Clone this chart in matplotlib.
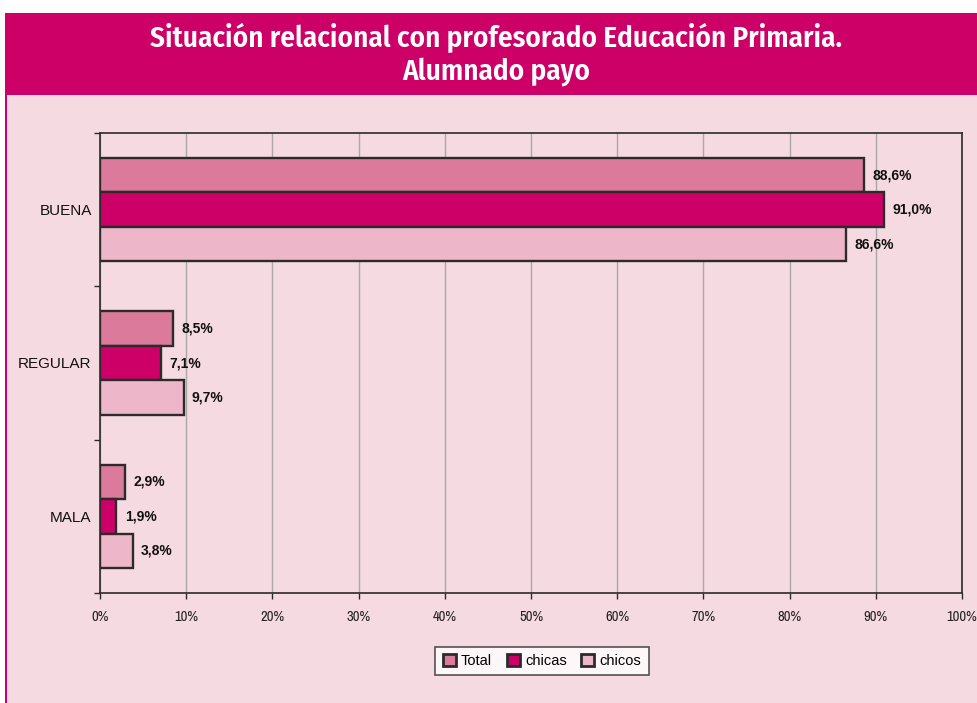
import numpy as np
import matplotlib
matplotlib.use("Agg")
import matplotlib.pyplot as plt
from matplotlib.patches import Rectangle

# data
categories = ["BUENA", "REGULAR", "MALA"]
series_names = ["Total", "chicas", "chicos"]
total = [88.6, 8.5, 2.9]
chicas = [91.0, 7.1, 1.9]
chicos = [86.6, 9.7, 3.8]
x_ticks = [0, 10, 20, 30, 40, 50, 60, 70, 80, 90, 100]

title_lines = ["Situación relacional con profesorado Educación Primaria.", "Alumnado payo"]

HEADER = "#CC0066"
BG = "#F6DAE2"
colors = ["#DC7A9B", "#CC0066", "#EDB6C9"]
EDGE = "#2B2B2B"
TITLE_FONT = ["Fira Sans Condensed", "DejaVu Sans"]
NARROW_FONT = ["Archivo Narrow", "Liberation Sans"]

W, H = 978, 703
fig = plt.figure(figsize=(W / 100, H / 100), dpi=100)
fig.patch.set_facecolor("white")

# header band and body panel
fig.patches.append(Rectangle((5 / W, 1 - 95 / H), 1, 82 / H, transform=fig.transFigure,
                             facecolor=HEADER, edgecolor="none", zorder=-3))
fig.patches.append(Rectangle((5 / W, 0), 1, 1 - 95 / H, transform=fig.transFigure,
                             facecolor=BG, edgecolor="none", zorder=-3))
fig.patches.append(Rectangle((5 / W, 0), 2 / W, 1 - 95 / H, transform=fig.transFigure,
                             facecolor=HEADER, edgecolor="none", zorder=-2))

for line, base in zip(title_lines, [47, 80]):
    fig.text(496 / W, 1 - base / H, line, ha="center", va="baseline", color="white",
             fontsize=21, fontweight=600, family=TITLE_FONT)

ax = fig.add_axes([100 / W, 1 - 593 / H, 862 / W, 460 / H])
ax.set_facecolor(BG)

y = np.arange(len(categories))
h = 0.225
values = [total, chicas, chicos]
offsets = [-h, 0, h]
for vals, off, col, name in zip(values, offsets, colors, series_names):
    bars = ax.barh(y + off, vals, height=h, color=col, edgecolor=EDGE, linewidth=1.7,
                   label=name, zorder=3)
    for b, v in zip(bars, vals):
        ax.annotate(f"{v:.1f}%".replace(".", ","), (v, b.get_y() + b.get_height() / 2),
                    xytext=(6, 0), textcoords="offset points", ha="left", va="center",
                    fontsize=10, fontweight="bold", family="Liberation Sans", color="#111111")

ax.set_xlim(0, 100)
ax.set_ylim(2.5, -0.5)
ax.set_xticks(x_ticks)
ax.set_xticklabels([f"{t}%" for t in x_ticks], fontsize=10.5, family=NARROW_FONT, color="#222222")
ax.xaxis.grid(True, color="#A8A8A8", linewidth=1.0, zorder=0)
ax.set_axisbelow(True)

ax.set_yticks([-0.5, 0.5, 1.5, 2.5])
ax.set_yticklabels([])
ax.set_yticks(y, minor=True)
ax.set_yticklabels(categories, minor=True, fontsize=11, family="Liberation Sans", color="#111111")
ax.tick_params(axis="y", which="major", length=4, width=1, color=EDGE, direction="out")
ax.tick_params(axis="y", which="minor", length=0, pad=6)
ax.tick_params(axis="x", length=4, width=1, color=EDGE, direction="out", pad=8)

for side in ["left", "bottom", "top", "right"]:
    ax.spines[side].set_color(EDGE)
    ax.spines[side].set_linewidth(1.2)

leg = fig.legend(loc="center", bbox_to_anchor=(542 / W, 1 - 661 / H), ncol=3,
                 frameon=True, fancybox=False, edgecolor=EDGE, facecolor="white",
                 prop={"family": "Liberation Sans", "size": 10.5},
                 handlelength=0.9, handleheight=0.85, handletextpad=0.35,
                 columnspacing=1.0, borderpad=0.5, borderaxespad=0)
leg.get_frame().set_linewidth(1.2)
for p in leg.get_patches():
    p.set_linewidth(2.0)

fig.savefig("out.png", dpi=100, facecolor=fig.get_facecolor())
